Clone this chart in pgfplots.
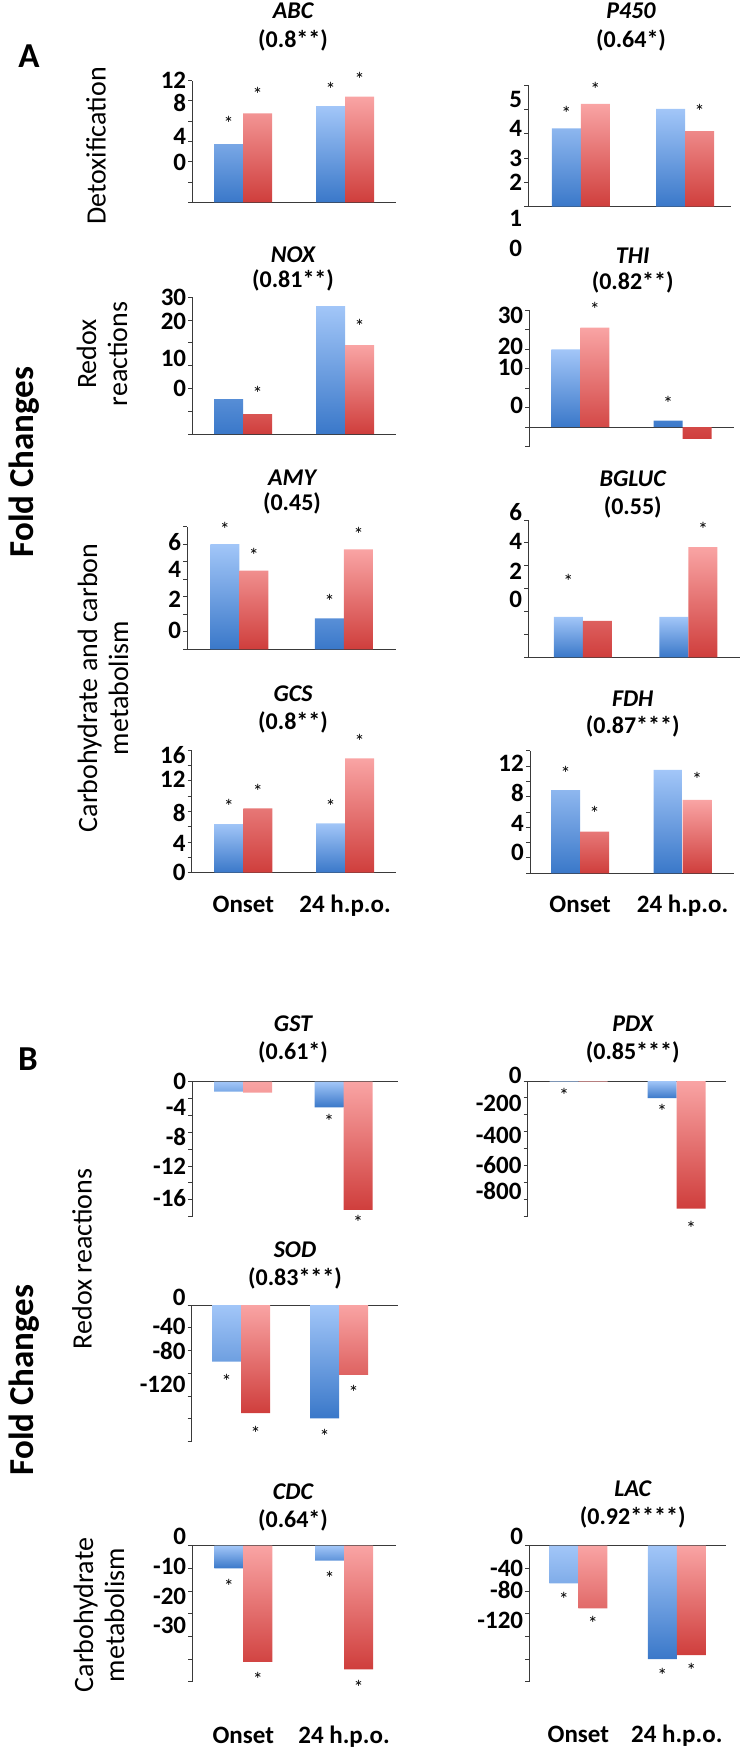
\documentclass[border=0pt]{standalone}
\usepackage{pgfplots}
\pgfplotsset{compat=1.18}
\usepackage{fontspec}
\setmainfont{Carlito}
\definecolor{bluetop}{HTML}{A2C6F8}
\definecolor{bluebot}{HTML}{3A78C9}
\definecolor{redtop}{HTML}{F9A4A4}
\definecolor{redbot}{HTML}{CF3E3C}
\definecolor{axisgray}{HTML}{3A3A3A}
\newcommand{\tickfont}{\fontsize{25bp}{29bp}\selectfont\bfseries}
\tikzset{
  star/.style={font=\fontsize{20bp}{22bp}\selectfont, inner sep=0pt, yshift=-3bp},
  sb/.style={star, xshift=-14.5bp},
  sr/.style={star, xshift=14.5bp},
  tl/.style={font=\tickfont, anchor=east, inner xsep=6bp, inner ysep=0pt},
  gene/.style={font=\fontsize{24bp}{28bp}\selectfont\bfseries\itshape, anchor=base, yshift=-7.8bp, inner ysep=0pt},
  corr/.style={font=\fontsize{24bp}{28bp}\selectfont\bfseries, anchor=base, yshift=-6.8bp, inner ysep=0pt},
  xl/.style={font=\fontsize{25bp}{29bp}\selectfont\bfseries, anchor=base, inner ysep=0pt},
  yl/.style={font=\fontsize{28bp}{31bp}\selectfont, rotate=90, align=center, inner sep=0pt},
  big/.style={font=\fontsize{35bp}{40bp}\selectfont\bfseries, inner sep=0pt},
}
\pgfplotsset{
  panel/.style={
    scale only axis, anchor=south west, clip=false,
    axis x line=middle, axis y line=left,
    axis line style={-, draw=axisgray, line width=1bp},
    xtick=\empty, tick align=outside, major tick length=4bp,
    ytick style={draw=axisgray, line width=1bp},
    yticklabels={},
    yticklabel style={font=\tickfont, inner xsep=6bp, inner ysep=0pt},
    extra y tick style={major tick length=0pt},
  },
  bl/.style={ybar, bar width=29bp, bar shift=-14.5bp, draw=none, top color=bluetop, bottom color=bluebot},
  rd/.style={ybar, bar width=29bp, bar shift=14.5bp, draw=none, top color=redtop, bottom color=redbot},
}
\newcommand{\gt}[5]{\node[gene] at (#1bp,-#2bp) {#4}; \node[corr] at (#1bp,-#3bp) {#5};}
\begin{document}
\begin{tikzpicture}
\path[use as bounding box] (0,0) rectangle (742bp,-1748bp);

% ---------- panel labels and side texts
\node[big] at (29bp,-56bp) {A};
\node[big] at (28bp,-1059bp) {B};
\node[big, rotate=90] at (24bp,-462bp) {Fold Changes};
\node[big, rotate=90] at (24bp,-1380bp) {Fold Changes};
\node[yl] at (96bp,-146bp) {Detoxification};
\node[yl] at (102bp,-354bp) {Redox\\reactions};
\node[yl] at (103bp,-688bp) {Carbohydrate and carbon\\metabolism};
\node[yl] at (82bp,-1259bp) {Redox reactions};
\node[yl] at (99bp,-1615bp) {Carbohydrate\\metabolism};

% ---------- titles
\gt{293}{11}{41}{ABC}{(0.8**)}
\gt{631}{11}{41}{P450}{(0.64*)}
\gt{293}{255}{281}{NOX}{(0.81**)}
\gt{632.7}{255.7}{283}{THI}{(0.82**)}
\gt{292}{477.5}{504}{AMY}{(0.45)}
\gt{632.7}{479}{508}{BGLUC}{(0.55)}
\gt{293}{694}{723}{GCS}{(0.8**)}
\gt{632.7}{699}{726.7}{FDH}{(0.87***)}
\gt{293}{1024}{1053}{GST}{(0.61*)}
\gt{632.7}{1024}{1053}{PDX}{(0.85***)}
\gt{295}{1250}{1279}{SOD}{(0.83***)}
\gt{293}{1491.7}{1521}{CDC}{(0.64*)}
\gt{632.7}{1488.3}{1517.7}{LAC}{(0.92****)}

% ---------- ABC
\begin{axis}[panel, at={(192.3bp,-202.3bp)}, width=203.7bp, height=121.6bp,
  xmin=0.5, xmax=2.5, ymin=0, ymax=12, ytick={0,2,...,12},
  extra y ticks={12,9.85,6.54,3.95}, extra y tick labels={12,8,4,0}]
\addplot[bl] coordinates {(1,5.75) (2,9.5)};
\addplot[rd] coordinates {(1,8.78) (2,10.42)};
\node[sb] at (axis cs:1,8.12) {*};
\node[sr] at (axis cs:1,10.99) {*};
\node[sb] at (axis cs:2,11.48) {*};
\node[sr] at (axis cs:2,12.47) {*};
\end{axis}

% ---------- P450
\begin{axis}[panel, at={(528.3bp,-206.7bp)}, width=202.7bp, height=121.7bp,
  xmin=0.495, xmax=2.44, ymin=0, ymax=5, ytick={0,...,5},
  extra y ticks={4.39,3.23,2.0,1.02}, extra y tick labels={5,4,3,2}]
\addplot[bl] coordinates {(1,3.22) (2,4.02)};
\addplot[rd] coordinates {(1,4.22) (2,3.11)};
\node[tl] at (axis cs:0.495,-0.46) {1};
\node[tl] at (axis cs:0.495,-1.70) {0};
\node[sb] at (axis cs:1,3.97) {*};
\node[sr] at (axis cs:1,4.96) {*};
\node[sr] at (axis cs:2,4.04) {*};
\end{axis}

% ---------- NOX
\begin{axis}[panel, at={(192.3bp,-434bp)}, width=203.7bp, height=136.7bp,
  xmin=0.5, xmax=2.5, ymin=0, ymax=30, ytick={0,5,...,30},
  extra y ticks={30,24.65,16.6,10.03}, extra y tick labels={30,20,10,0}]
\addplot[bl] coordinates {(1,7.67) (2,28.07)};
\addplot[rd] coordinates {(1,4.39) (2,19.5)};
\node[sr] at (axis cs:1,9.66) {*};
\node[sr] at (axis cs:2,24.3) {*};
\end{axis}

% ---------- THI
\begin{axis}[panel, at={(529.3bp,-446.7bp)}, width=204.4bp, height=136.7bp,
  xmin=0.502, xmax=2.5, ymin=-5, ymax=30, ytick={-5,0,...,30},
  extra y ticks={28.7,20.6,15.4,5.6}, extra y tick labels={30,20,10,0}]
\addplot[bl] coordinates {(1,19.9) (2,1.7)};
\addplot[rd] coordinates {(1,25.5) (2,-3.0)};
\node[sr] at (axis cs:1,30.85) {*};
\node[sb] at (axis cs:2,6.86) {*};
\end{axis}

% ---------- AMY
\begin{axis}[panel, at={(187.3bp,-649.3bp)}, width=208.7bp, height=122.6bp,
  xmin=0.503, xmax=2.497, ymin=0, ymax=7, ytick={0,...,7},
  extra y ticks={6.14,4.56,2.87,1.10}, extra y tick labels={6,4,2,0}]
\addplot[bl] coordinates {(1,6.0) (2,1.77)};
\addplot[rd] coordinates {(1,4.49) (2,5.7)};
\node[sb] at (axis cs:1,7.02) {*};
\node[sr] at (axis cs:1,5.53) {*};
\node[sb] at (axis cs:2,2.91) {*};
\node[sr] at (axis cs:2,6.71) {*};
\end{axis}

% ---------- BGLUC
\begin{axis}[panel, at={(528.3bp,-657.3bp)}, width=212bp, height=137.3bp,
  xmin=0.485, xmax=2.49, ymin=0, ymax=6, ytick={0,...,6},
  extra y ticks={5.05,3.78,2.53}, extra y tick labels={4,2,0}]
\addplot[bl] coordinates {(1,1.77) (2,1.77)};
\addplot[rd] coordinates {(1,1.59) (2,4.81)};
\node[tl] at (axis cs:0.485,6.36) {6};
\node[sb] at (axis cs:1,3.45) {*};
\node[sr] at (axis cs:2,5.74) {*};
\end{axis}

% ---------- GCS
\begin{axis}[panel, at={(191.7bp,-872.7bp)}, width=204.3bp, height=122.7bp,
  xmin=0.493, xmax=2.5, ymin=0, ymax=16, ytick={0,2,...,16},
  extra y ticks={15.4,12.2,7.8,3.86,0}, extra y tick labels={16,12,8,4,0}]
\addplot[bl] coordinates {(1,6.35) (2,6.44)};
\addplot[rd] coordinates {(1,8.4) (2,14.9)};
\node[sb] at (axis cs:1,9.1) {*};
\node[sr] at (axis cs:1,10.94) {*};
\node[sb] at (axis cs:2,9.0) {*};
\node[sr] at (axis cs:2,17.5) {*};
\node[xl, yshift=-40bp] at (axis cs:1,0) {Onset};
\node[xl, yshift=-40bp] at (axis cs:2,0) {24 h.p.o.};
\end{axis}

% ---------- FDH
\begin{axis}[panel, at={(530bp,-873.3bp)}, width=203.7bp, height=122.6bp,
  xmin=0.51, xmax=2.5, ymin=0, ymax=16, ytick={0,2,...,16},
  extra y ticks={14.36,10.44,6.53,2.69}, extra y tick labels={12,8,4,0}]
\addplot[bl] coordinates {(1,10.87) (2,13.49)};
\addplot[rd] coordinates {(1,5.43) (2,9.57)};
\node[sb] at (axis cs:1,13.49) {*};
\node[sr] at (axis cs:1,8.17) {*};
\node[sr] at (axis cs:2,12.6) {*};
\node[xl, yshift=-39.4bp] at (axis cs:1,0) {Onset};
\node[xl, yshift=-39.4bp] at (axis cs:2,0) {24 h.p.o.};
\end{axis}

% ---------- GST
\begin{axis}[panel, at={(192.3bp,-1216.7bp)}, width=205.7bp, height=135bp,
  xmin=0.494, xmax=2.54, ymin=-16, ymax=0, ytick={-16,-14,...,0},
  extra y ticks={0,-3.03,-6.52,-10.07,-13.8}, extra y tick labels={0,-4,-8,-12,-16}]
\addplot[bl] coordinates {(1,-1.18) (2,-3.03)};
\addplot[rd] coordinates {(1,-1.3) (2,-15.2)};
\node[sb] at (axis cs:2,-4.34) {*};
\node[sr] at (axis cs:2,-16.3) {*};
\end{axis}

% ---------- PDX
\begin{axis}[panel, at={(527.7bp,-1216bp)}, width=198.3bp, height=135bp,
  xmin=0.48, xmax=2.505, ymin=-800, ymax=0, ytick={-800,-700,...,0},
  extra y ticks={-132,-320,-497,-651}, extra y tick labels={-200,-400,-600,-800}]
\addplot[bl] coordinates {(1,-3) (2,-102)};
\addplot[rd] coordinates {(1,-3) (2,-756)};
\node[tl] at (axis cs:0.48,35) {0};
\node[sb] at (axis cs:1,-69) {*};
\node[sb] at (axis cs:2,-161.5) {*};
\node[sr] at (axis cs:2,-855) {*};
\end{axis}

% ---------- SOD
\begin{axis}[panel, at={(191.7bp,-1441.7bp)}, width=206.3bp, height=136.7bp,
  xmin=0.495, xmax=2.6, ymin=-240, ymax=0, ytick={-240,-200,...,0},
  extra y ticks={-38,-80.7,-140}, extra y tick labels={-40,-80,-120}]
\addplot[bl] coordinates {(1,-99.5) (2,-198.8)};
\addplot[rd] coordinates {(1,-190) (2,-122.8)};
\node[tl] at (axis cs:0.495,14) {0};
\node[sb] at (axis cs:1,-128.6) {*};
\node[sr] at (axis cs:1,-219.3) {*};
\node[sb] at (axis cs:2,-225) {*};
\node[sr] at (axis cs:2,-147.9) {*};
\end{axis}

% ---------- CDC
\begin{axis}[panel, at={(192.3bp,-1681.7bp)}, width=203.7bp, height=136bp,
  xmin=0.494, xmax=2.516, ymin=-60, ymax=0, ytick={-60,-50,...,0},
  extra y ticks={-9.26,-22.5,-35}, extra y tick labels={-10,-20,-30}]
\addplot[bl] coordinates {(1,-10) (2,-6.6)};
\addplot[rd] coordinates {(1,-51.2) (2,-54.5)};
\node[tl] at (axis cs:0.494,4) {0};
\node[sb] at (axis cs:1,-16.6) {*};
\node[sr] at (axis cs:1,-57.8) {*};
\node[sb] at (axis cs:2,-12.9) {*};
\node[sr] at (axis cs:2,-61.4) {*};
\node[xl, yshift=-62bp] at (axis cs:1,-60) {Onset};
\node[xl, yshift=-62bp] at (axis cs:2,-60) {24 h.p.o.};
\end{axis}

% ---------- LAC
\begin{axis}[panel, at={(529.3bp,-1681.7bp)}, width=196.7bp, height=136bp,
  xmin=0.502, xmax=2.5, ymin=-240, ymax=0, ytick={-240,-200,...,0},
  extra y ticks={-39.9,-78.2,-131}, extra y tick labels={-40,-80,-120}]
\addplot[bl] coordinates {(1,-66.4) (2,-200)};
\addplot[rd] coordinates {(1,-110.5) (2,-192.9)};
\node[tl] at (axis cs:0.502,16) {0};
\node[sb] at (axis cs:1,-90) {*};
\node[sr] at (axis cs:1,-131) {*};
\node[sb] at (axis cs:2,-224) {*};
\node[sr] at (axis cs:2,-215) {*};
\node[xl, yshift=-61bp] at (axis cs:1,-240) {Onset};
\node[xl, yshift=-61bp] at (axis cs:2,-240) {24 h.p.o.};
\end{axis}
\end{tikzpicture}
\end{document}
